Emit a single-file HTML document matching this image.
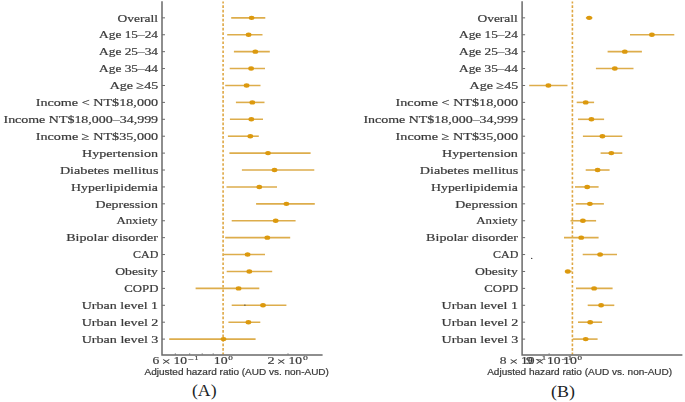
<!DOCTYPE html>
<html><head><meta charset="utf-8"><style>
html,body{margin:0;padding:0;background:#fff;width:685px;height:402px;overflow:hidden}
svg{display:block}

.yl{font-family:"Liberation Serif",serif;font-size:10.8px;fill:#3a3a3a;stroke:#3a3a3a;stroke-width:0.2px}
.tl{font-family:"Liberation Serif",serif;font-size:10.2px;fill:#3a3a3a;stroke:#3a3a3a;stroke-width:0.17px}
.tx{font-family:"Liberation Serif",serif;font-size:11.3px;fill:#3a3a3a;stroke:#3a3a3a;stroke-width:0.17px}
.ts{font-family:"Liberation Serif",serif;font-size:6.0px;fill:#3a3a3a;stroke:#3a3a3a;stroke-width:0.17px}
.xl{font-family:"Liberation Sans",sans-serif;font-size:9.0px;fill:#3a3a3a;stroke:#3a3a3a;stroke-width:0.22px}
.pn{font-family:"Liberation Serif",serif;font-size:17.6px;fill:#1c1f26}

.tk{stroke:#6a6a6a;stroke-width:1}
</style></head><body>
<svg width="685" height="402" viewBox="0 0 685 402">
<defs><filter id="bl" x="-2%" y="-2%" width="104%" height="104%"><feGaussianBlur stdDeviation="0.3"/></filter></defs>
<g filter="url(#bl)">
<line x1="162.0" x2="165.0" y1="17.85" y2="17.85" class="tk"/>
<line x1="162.0" x2="165.0" y1="34.76" y2="34.76" class="tk"/>
<line x1="162.0" x2="165.0" y1="51.67" y2="51.67" class="tk"/>
<line x1="162.0" x2="165.0" y1="68.57" y2="68.57" class="tk"/>
<line x1="162.0" x2="165.0" y1="85.48" y2="85.48" class="tk"/>
<line x1="162.0" x2="165.0" y1="102.39" y2="102.39" class="tk"/>
<line x1="162.0" x2="165.0" y1="119.30" y2="119.30" class="tk"/>
<line x1="162.0" x2="165.0" y1="136.21" y2="136.21" class="tk"/>
<line x1="162.0" x2="165.0" y1="153.11" y2="153.11" class="tk"/>
<line x1="162.0" x2="165.0" y1="170.02" y2="170.02" class="tk"/>
<line x1="162.0" x2="165.0" y1="186.93" y2="186.93" class="tk"/>
<line x1="162.0" x2="165.0" y1="203.84" y2="203.84" class="tk"/>
<line x1="162.0" x2="165.0" y1="220.75" y2="220.75" class="tk"/>
<line x1="162.0" x2="165.0" y1="237.65" y2="237.65" class="tk"/>
<line x1="162.0" x2="165.0" y1="254.56" y2="254.56" class="tk"/>
<line x1="162.0" x2="165.0" y1="271.47" y2="271.47" class="tk"/>
<line x1="162.0" x2="165.0" y1="288.38" y2="288.38" class="tk"/>
<line x1="162.0" x2="165.0" y1="305.29" y2="305.29" class="tk"/>
<line x1="162.0" x2="165.0" y1="322.19" y2="322.19" class="tk"/>
<line x1="162.0" x2="165.0" y1="339.10" y2="339.10" class="tk"/>
<line x1="223.1" x2="223.1" y1="1.5" y2="354.5" stroke="#dea743" stroke-width="1.6" stroke-dasharray="2.65 1.86" stroke-dashoffset="0.7"/>
<line x1="175.3" x2="175.3" y1="354.5" y2="353.4" class="tk"/>
<line x1="189.7" x2="189.7" y1="354.5" y2="353.4" class="tk"/>
<line x1="202.2" x2="202.2" y1="354.5" y2="353.4" class="tk"/>
<line x1="213.2" x2="213.2" y1="354.5" y2="353.4" class="tk"/>
<line x1="288.0" x2="288.0" y1="354.5" y2="353.4" class="tk"/>
<line x1="231.2" x2="265.3" y1="17.85" y2="17.85" stroke="#ddad4c" stroke-width="1.6"/>
<ellipse cx="251.6" cy="17.85" rx="2.85" ry="2.2" fill="#dc990e"/>
<line x1="227.2" x2="262.5" y1="34.76" y2="34.76" stroke="#ddad4c" stroke-width="1.6"/>
<ellipse cx="248.6" cy="34.76" rx="2.85" ry="2.2" fill="#dc990e"/>
<line x1="233.9" x2="269.8" y1="51.67" y2="51.67" stroke="#ddad4c" stroke-width="1.6"/>
<ellipse cx="255.3" cy="51.67" rx="2.85" ry="2.2" fill="#dc990e"/>
<line x1="229.7" x2="265.0" y1="68.57" y2="68.57" stroke="#ddad4c" stroke-width="1.6"/>
<ellipse cx="251.1" cy="68.57" rx="2.85" ry="2.2" fill="#dc990e"/>
<line x1="225.2" x2="260.5" y1="85.48" y2="85.48" stroke="#ddad4c" stroke-width="1.6"/>
<ellipse cx="246.6" cy="85.48" rx="2.85" ry="2.2" fill="#dc990e"/>
<line x1="235.9" x2="264.5" y1="102.39" y2="102.39" stroke="#ddad4c" stroke-width="1.6"/>
<ellipse cx="252.3" cy="102.39" rx="2.85" ry="2.2" fill="#dc990e"/>
<line x1="229.9" x2="263.0" y1="119.30" y2="119.30" stroke="#ddad4c" stroke-width="1.6"/>
<ellipse cx="251.3" cy="119.30" rx="2.85" ry="2.2" fill="#dc990e"/>
<line x1="227.9" x2="258.8" y1="136.21" y2="136.21" stroke="#ddad4c" stroke-width="1.6"/>
<ellipse cx="250.3" cy="136.21" rx="2.85" ry="2.2" fill="#dc990e"/>
<line x1="229.4" x2="310.6" y1="153.11" y2="153.11" stroke="#ddad4c" stroke-width="1.6"/>
<ellipse cx="268.0" cy="153.11" rx="2.85" ry="2.2" fill="#dc990e"/>
<line x1="241.9" x2="314.3" y1="170.02" y2="170.02" stroke="#ddad4c" stroke-width="1.6"/>
<ellipse cx="274.5" cy="170.02" rx="2.85" ry="2.2" fill="#dc990e"/>
<line x1="226.5" x2="277.0" y1="186.93" y2="186.93" stroke="#ddad4c" stroke-width="1.6"/>
<ellipse cx="259.3" cy="186.93" rx="2.85" ry="2.2" fill="#dc990e"/>
<line x1="256.1" x2="314.8" y1="203.84" y2="203.84" stroke="#ddad4c" stroke-width="1.6"/>
<ellipse cx="286.4" cy="203.84" rx="2.85" ry="2.2" fill="#dc990e"/>
<line x1="231.7" x2="295.6" y1="220.75" y2="220.75" stroke="#ddad4c" stroke-width="1.6"/>
<ellipse cx="275.7" cy="220.75" rx="2.85" ry="2.2" fill="#dc990e"/>
<line x1="225.2" x2="290.2" y1="237.65" y2="237.65" stroke="#ddad4c" stroke-width="1.6"/>
<ellipse cx="267.3" cy="237.65" rx="2.85" ry="2.2" fill="#dc990e"/>
<line x1="223.2" x2="265.0" y1="254.56" y2="254.56" stroke="#ddad4c" stroke-width="1.6"/>
<ellipse cx="247.6" cy="254.56" rx="2.85" ry="2.2" fill="#dc990e"/>
<line x1="226.7" x2="272.2" y1="271.47" y2="271.47" stroke="#ddad4c" stroke-width="1.6"/>
<ellipse cx="249.3" cy="271.47" rx="2.85" ry="2.2" fill="#dc990e"/>
<line x1="195.6" x2="259.3" y1="288.38" y2="288.38" stroke="#ddad4c" stroke-width="1.6"/>
<ellipse cx="238.6" cy="288.38" rx="2.85" ry="2.2" fill="#dc990e"/>
<line x1="231.7" x2="286.4" y1="305.29" y2="305.29" stroke="#ddad4c" stroke-width="1.6"/>
<ellipse cx="263.0" cy="305.29" rx="2.85" ry="2.2" fill="#dc990e"/>
<line x1="228.4" x2="260.3" y1="322.19" y2="322.19" stroke="#ddad4c" stroke-width="1.6"/>
<ellipse cx="248.4" cy="322.19" rx="2.85" ry="2.2" fill="#dc990e"/>
<line x1="169.2" x2="255.6" y1="339.10" y2="339.10" stroke="#ddad4c" stroke-width="1.6"/>
<ellipse cx="223.5" cy="339.10" rx="2.85" ry="2.2" fill="#dc990e"/>
<path d="M162.0 1.3 V355.1 H322.6" fill="none" stroke="#6a6a6a" stroke-width="1.5"/>
<line x1="522.1" x2="525.1" y1="17.85" y2="17.85" class="tk"/>
<line x1="522.1" x2="525.1" y1="34.76" y2="34.76" class="tk"/>
<line x1="522.1" x2="525.1" y1="51.67" y2="51.67" class="tk"/>
<line x1="522.1" x2="525.1" y1="68.57" y2="68.57" class="tk"/>
<line x1="522.1" x2="525.1" y1="85.48" y2="85.48" class="tk"/>
<line x1="522.1" x2="525.1" y1="102.39" y2="102.39" class="tk"/>
<line x1="522.1" x2="525.1" y1="119.30" y2="119.30" class="tk"/>
<line x1="522.1" x2="525.1" y1="136.21" y2="136.21" class="tk"/>
<line x1="522.1" x2="525.1" y1="153.11" y2="153.11" class="tk"/>
<line x1="522.1" x2="525.1" y1="170.02" y2="170.02" class="tk"/>
<line x1="522.1" x2="525.1" y1="186.93" y2="186.93" class="tk"/>
<line x1="522.1" x2="525.1" y1="203.84" y2="203.84" class="tk"/>
<line x1="522.1" x2="525.1" y1="220.75" y2="220.75" class="tk"/>
<line x1="522.1" x2="525.1" y1="237.65" y2="237.65" class="tk"/>
<line x1="522.1" x2="525.1" y1="254.56" y2="254.56" class="tk"/>
<line x1="522.1" x2="525.1" y1="271.47" y2="271.47" class="tk"/>
<line x1="522.1" x2="525.1" y1="288.38" y2="288.38" class="tk"/>
<line x1="522.1" x2="525.1" y1="305.29" y2="305.29" class="tk"/>
<line x1="522.1" x2="525.1" y1="322.19" y2="322.19" class="tk"/>
<line x1="522.1" x2="525.1" y1="339.10" y2="339.10" class="tk"/>
<line x1="572.4" x2="572.4" y1="1.5" y2="354.5" stroke="#dea743" stroke-width="1.6" stroke-dasharray="2.65 1.86" stroke-dashoffset="0.7"/>
<line x1="549.1" x2="549.1" y1="354.5" y2="353.4" class="tk"/>
<line x1="585.9" x2="592.4" y1="17.85" y2="17.85" stroke="#ddad4c" stroke-width="1.6"/>
<ellipse cx="589.2" cy="17.85" rx="2.85" ry="2.2" fill="#dc990e"/>
<line x1="630.0" x2="674.3" y1="34.76" y2="34.76" stroke="#ddad4c" stroke-width="1.6"/>
<ellipse cx="651.9" cy="34.76" rx="2.85" ry="2.2" fill="#dc990e"/>
<line x1="607.6" x2="641.9" y1="51.67" y2="51.67" stroke="#ddad4c" stroke-width="1.6"/>
<ellipse cx="624.8" cy="51.67" rx="2.85" ry="2.2" fill="#dc990e"/>
<line x1="595.9" x2="633.5" y1="68.57" y2="68.57" stroke="#ddad4c" stroke-width="1.6"/>
<ellipse cx="614.8" cy="68.57" rx="2.85" ry="2.2" fill="#dc990e"/>
<line x1="529.2" x2="567.5" y1="85.48" y2="85.48" stroke="#ddad4c" stroke-width="1.6"/>
<ellipse cx="548.4" cy="85.48" rx="2.85" ry="2.2" fill="#dc990e"/>
<line x1="576.7" x2="594.1" y1="102.39" y2="102.39" stroke="#ddad4c" stroke-width="1.6"/>
<ellipse cx="585.7" cy="102.39" rx="2.85" ry="2.2" fill="#dc990e"/>
<line x1="578.0" x2="604.1" y1="119.30" y2="119.30" stroke="#ddad4c" stroke-width="1.6"/>
<ellipse cx="591.4" cy="119.30" rx="2.85" ry="2.2" fill="#dc990e"/>
<line x1="582.9" x2="622.3" y1="136.21" y2="136.21" stroke="#ddad4c" stroke-width="1.6"/>
<ellipse cx="602.4" cy="136.21" rx="2.85" ry="2.2" fill="#dc990e"/>
<line x1="600.6" x2="622.3" y1="153.11" y2="153.11" stroke="#ddad4c" stroke-width="1.6"/>
<ellipse cx="611.3" cy="153.11" rx="2.85" ry="2.2" fill="#dc990e"/>
<line x1="585.7" x2="609.6" y1="170.02" y2="170.02" stroke="#ddad4c" stroke-width="1.6"/>
<ellipse cx="597.6" cy="170.02" rx="2.85" ry="2.2" fill="#dc990e"/>
<line x1="575.0" x2="598.6" y1="186.93" y2="186.93" stroke="#ddad4c" stroke-width="1.6"/>
<ellipse cx="587.2" cy="186.93" rx="2.85" ry="2.2" fill="#dc990e"/>
<line x1="575.7" x2="603.9" y1="203.84" y2="203.84" stroke="#ddad4c" stroke-width="1.6"/>
<ellipse cx="589.9" cy="203.84" rx="2.85" ry="2.2" fill="#dc990e"/>
<line x1="570.5" x2="596.1" y1="220.75" y2="220.75" stroke="#ddad4c" stroke-width="1.6"/>
<ellipse cx="582.9" cy="220.75" rx="2.85" ry="2.2" fill="#dc990e"/>
<line x1="564.0" x2="598.6" y1="237.65" y2="237.65" stroke="#ddad4c" stroke-width="1.6"/>
<ellipse cx="581.2" cy="237.65" rx="2.85" ry="2.2" fill="#dc990e"/>
<line x1="582.7" x2="617.0" y1="254.56" y2="254.56" stroke="#ddad4c" stroke-width="1.6"/>
<ellipse cx="600.1" cy="254.56" rx="2.85" ry="2.2" fill="#dc990e"/>
<line x1="564.8" x2="571.7" y1="271.47" y2="271.47" stroke="#ddad4c" stroke-width="1.6"/>
<ellipse cx="567.8" cy="271.47" rx="2.85" ry="2.2" fill="#dc990e"/>
<line x1="576.0" x2="612.6" y1="288.38" y2="288.38" stroke="#ddad4c" stroke-width="1.6"/>
<ellipse cx="594.1" cy="288.38" rx="2.85" ry="2.2" fill="#dc990e"/>
<line x1="587.7" x2="614.3" y1="305.29" y2="305.29" stroke="#ddad4c" stroke-width="1.6"/>
<ellipse cx="601.1" cy="305.29" rx="2.85" ry="2.2" fill="#dc990e"/>
<line x1="578.0" x2="602.1" y1="322.19" y2="322.19" stroke="#ddad4c" stroke-width="1.6"/>
<ellipse cx="590.2" cy="322.19" rx="2.85" ry="2.2" fill="#dc990e"/>
<line x1="572.7" x2="597.6" y1="339.10" y2="339.10" stroke="#ddad4c" stroke-width="1.6"/>
<ellipse cx="585.7" cy="339.10" rx="2.85" ry="2.2" fill="#dc990e"/>
<path d="M522.1 1.3 V355.1 H682.4" fill="none" stroke="#6a6a6a" stroke-width="1.5"/>
<circle cx="244.9" cy="305.1" r="0.7" fill="#333"/>
<circle cx="531.7" cy="258.4" r="0.7" fill="#333"/>
<text class="yl" transform="translate(117.49,21.55) scale(1.2496,1.0000)">Overall</text>
<text class="yl" transform="translate(477.39,21.55) scale(1.2496,1.0000)">Overall</text>
<text class="yl" transform="translate(99.10,38.46) scale(1.2356,1.0000)">Age 15–24</text>
<text class="yl" transform="translate(459.00,38.46) scale(1.2356,1.0000)">Age 15–24</text>
<text class="yl" transform="translate(99.10,55.37) scale(1.2356,1.0000)">Age 25–34</text>
<text class="yl" transform="translate(459.00,55.37) scale(1.2356,1.0000)">Age 25–34</text>
<text class="yl" transform="translate(99.10,72.27) scale(1.2356,1.0000)">Age 35–44</text>
<text class="yl" transform="translate(459.00,72.27) scale(1.2356,1.0000)">Age 35–44</text>
<text class="yl" transform="translate(109.70,89.18) scale(1.2993,1.0000)">Age ≥45</text>
<text class="yl" transform="translate(469.60,89.18) scale(1.2993,1.0000)">Age ≥45</text>
<text class="yl" transform="translate(35.67,106.09) scale(1.3129,1.0000)">Income &lt; NT$18,000</text>
<text class="yl" transform="translate(395.57,106.09) scale(1.3129,1.0000)">Income &lt; NT$18,000</text>
<text class="yl" transform="translate(3.48,123.00) scale(1.2939,1.0000)">Income NT$18,000–34,999</text>
<text class="yl" transform="translate(363.38,123.00) scale(1.2939,1.0000)">Income NT$18,000–34,999</text>
<text class="yl" transform="translate(35.67,139.91) scale(1.3164,1.0000)">Income ≥ NT$35,000</text>
<text class="yl" transform="translate(395.57,139.91) scale(1.3164,1.0000)">Income ≥ NT$35,000</text>
<text class="yl" transform="translate(82.10,156.81) scale(1.3047,1.0000)">Hypertension</text>
<text class="yl" transform="translate(442.00,156.81) scale(1.3047,1.0000)">Hypertension</text>
<text class="yl" transform="translate(59.90,173.72) scale(1.3093,1.0000)">Diabetes mellitus</text>
<text class="yl" transform="translate(419.80,173.72) scale(1.3093,1.0000)">Diabetes mellitus</text>
<text class="yl" transform="translate(71.10,190.63) scale(1.2841,1.0000)">Hyperlipidemia</text>
<text class="yl" transform="translate(431.00,190.63) scale(1.2841,1.0000)">Hyperlipidemia</text>
<text class="yl" transform="translate(95.40,207.54) scale(1.2862,1.0000)">Depression</text>
<text class="yl" transform="translate(455.30,207.54) scale(1.2862,1.0000)">Depression</text>
<text class="yl" transform="translate(116.40,224.45) scale(1.1914,1.0000)">Anxiety</text>
<text class="yl" transform="translate(476.30,224.45) scale(1.1914,1.0000)">Anxiety</text>
<text class="yl" transform="translate(66.20,241.35) scale(1.3035,1.0000)">Bipolar disorder</text>
<text class="yl" transform="translate(426.10,241.35) scale(1.3035,1.0000)">Bipolar disorder</text>
<text class="yl" transform="translate(133.12,258.26) scale(1.1101,1.0000)">CAD</text>
<text class="yl" transform="translate(493.02,258.26) scale(1.1101,1.0000)">CAD</text>
<text class="yl" transform="translate(115.18,275.17) scale(1.2716,1.0000)">Obesity</text>
<text class="yl" transform="translate(475.08,275.17) scale(1.2716,1.0000)">Obesity</text>
<text class="yl" transform="translate(124.30,292.08) scale(1.1858,1.0000)">COPD</text>
<text class="yl" transform="translate(484.20,292.08) scale(1.1858,1.0000)">COPD</text>
<text class="yl" transform="translate(81.70,308.99) scale(1.3013,1.0000)">Urban level 1</text>
<text class="yl" transform="translate(441.60,308.99) scale(1.3013,1.0000)">Urban level 1</text>
<text class="yl" transform="translate(81.70,325.89) scale(1.3060,1.0000)">Urban level 2</text>
<text class="yl" transform="translate(441.60,325.89) scale(1.3060,1.0000)">Urban level 2</text>
<text class="yl" transform="translate(81.70,342.80) scale(1.3060,1.0000)">Urban level 3</text>
<text class="yl" transform="translate(441.60,342.80) scale(1.3060,1.0000)">Urban level 3</text>
<text class="xl" transform="translate(144.58,374.80) scale(1.1120,1.0000)">Adjusted hazard ratio (AUD vs. non-AUD)</text>
<text class="xl" transform="translate(487.18,374.80) scale(1.1163,1.0000)">Adjusted hazard ratio (AUD vs. non-AUD)</text>
<text class="tl" transform="translate(152.47,364.16) scale(1.3263,0.9714)">6</text>
<text class="tx" transform="translate(161.75,364.73) scale(1.4000,0.9000)">×</text>
<text class="tl" transform="translate(173.50,364.17) scale(1.3297,0.9379)">10</text>
<text class="ts" transform="translate(188.28,362.35) scale(1.7000,1.4000)">−</text>
<text class="ts" transform="translate(194.57,360.48) scale(1.3200,0.8941)">1</text>
<text class="tl" transform="translate(213.79,364.06) scale(1.3514,0.9517)">10</text>
<text class="ts" transform="translate(228.20,360.47) scale(1.5333,0.9176)">0</text>
<text class="tl" transform="translate(267.55,364.17) scale(1.4000,0.9379)">2</text>
<text class="tx" transform="translate(276.85,364.73) scale(1.4000,0.9000)">×</text>
<text class="tl" transform="translate(288.60,364.17) scale(1.3297,0.9379)">10</text>
<text class="ts" transform="translate(302.90,360.47) scale(1.6333,0.9176)">0</text>
<text class="tl" transform="translate(499.85,364.17) scale(1.3263,0.9379)">8</text>
<text class="tx" transform="translate(509.13,364.73) scale(1.4000,0.9000)">×</text>
<text class="tl" transform="translate(520.88,364.17) scale(1.3297,0.9379)">10</text>
<text class="ts" transform="translate(535.66,362.35) scale(1.7000,1.4000)">−</text>
<text class="ts" transform="translate(541.95,360.48) scale(1.3200,0.8941)">1</text>
<text class="tl" transform="translate(525.89,364.16) scale(1.3263,0.9714)">9</text>
<text class="tx" transform="translate(535.17,364.73) scale(1.4000,0.9000)">×</text>
<text class="tl" transform="translate(546.92,364.17) scale(1.3297,0.9379)">10</text>
<text class="ts" transform="translate(561.69,362.35) scale(1.7000,1.4000)">−</text>
<text class="ts" transform="translate(567.99,360.48) scale(1.3200,0.8941)">1</text>
<text class="tl" transform="translate(563.09,364.06) scale(1.3514,0.9517)">10</text>
<text class="ts" transform="translate(577.50,360.47) scale(1.5333,0.9176)">0</text>
</g>
<text class="pn" transform="translate(191.94,396.30) scale(1.0087,1.0000)">(A)</text>
<text class="pn" transform="translate(551.04,397.40) scale(1.0182,1.0000)">(B)</text>
</svg>
</body></html>
